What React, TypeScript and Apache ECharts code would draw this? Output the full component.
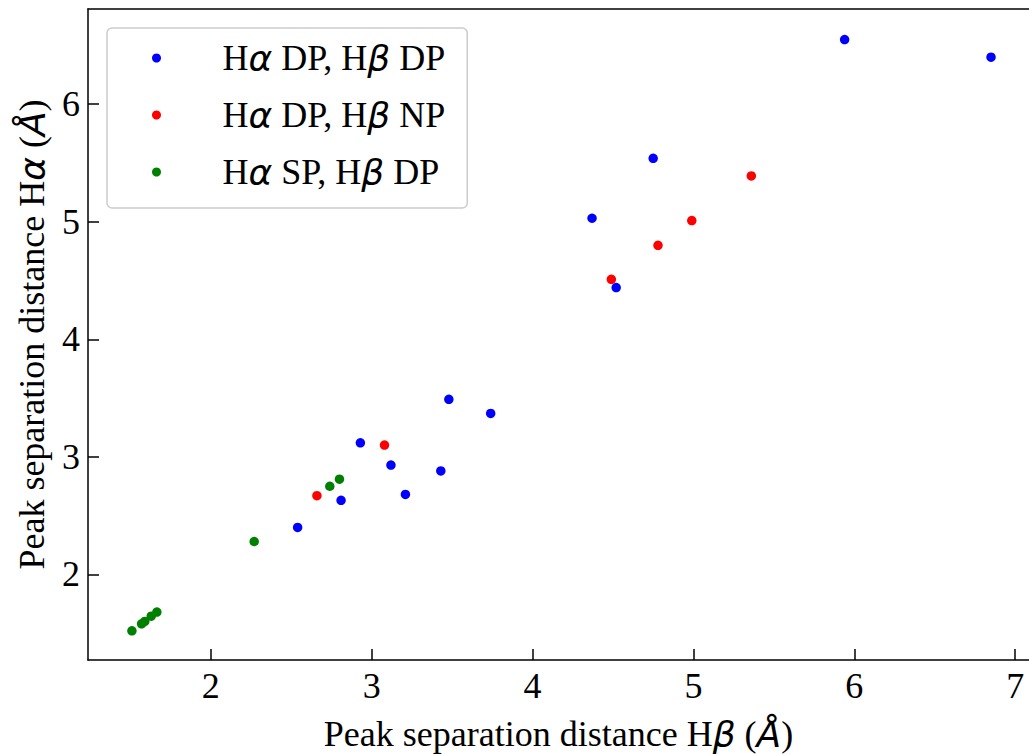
import { useEffect, useRef } from "react";
import * as echarts from "echarts";

// Hα DP, Hβ DP
const blueX = [5.94, 6.85, 4.75, 4.37, 4.52, 3.48, 3.74, 2.93, 3.12, 3.43, 2.81, 3.21, 2.54];
const blueY = [6.55, 6.40, 5.54, 5.03, 4.44, 3.49, 3.37, 3.12, 2.93, 2.88, 2.63, 2.68, 2.40];
// Hα DP, Hβ NP
const redX = [5.36, 4.99, 4.78, 4.49, 3.08, 2.66];
const redY = [5.39, 5.01, 4.80, 4.51, 3.10, 2.67];
// Hα SP, Hβ DP
const greenX = [2.80, 2.74, 2.27, 1.51, 1.57, 1.59, 1.63, 1.665];
const greenY = [2.81, 2.75, 2.28, 1.52, 1.58, 1.60, 1.645, 1.68];

const seriesNames = ["Hα DP, Hβ DP", "Hα DP, Hβ NP", "Hα SP, Hβ DP"];
const seriesColors = ["#0000ff", "#ff0000", "#008000"];

const xTickValues = [2, 3, 4, 5, 6, 7];
const yTickValues = [2, 3, 4, 5, 6];

const X_MIN = 1.237;
const X_MAX = 7.086;
const Y_MIN = 1.272;
const Y_MAX = 6.81;

const FS = 36;
const SERIF = "Liberation Serif";
const greek = { fontFamily: "DejaVu Sans", fontStyle: "italic" as const, fontSize: FS, color: "#000" };

const toRich = (s: string) => s.replace(/([αβÅ])/g, "{g|$1}");

export default function App() {
  const ref = useRef<HTMLDivElement>(null);
  useEffect(() => {
    if (!ref.current) return;
    const chart = echarts.init(ref.current, undefined, { renderer: "svg" });
    const pair = (xs: number[], ys: number[]) => xs.map((x, i) => [x, ys[i]]);
    const data = [pair(blueX, blueY), pair(redX, redY), pair(greenX, greenY)];
    chart.setOption({
      animation: false,
      backgroundColor: "#fff",
      textStyle: { fontFamily: SERIF },
      grid: { left: 88, right: 0, top: 9, bottom: 94, outerBoundsMode: "none", containLabel: false },
      legend: {
        data: seriesNames,
        orient: "vertical",
        left: 107,
        top: 28,
        padding: [10, 22, 16, 45],
        itemWidth: 20,
        itemHeight: 9,
        itemGap: 17,
        icon: "circle",
        backgroundColor: "#fff",
        borderColor: "#cccccc",
        borderWidth: 1.5,
        borderRadius: 5,
        formatter: (name: string) => "{sp|}" + toRich(name),
        textStyle: {
          fontFamily: SERIF,
          fontSize: FS,
          color: "#000",
          lineHeight: 40,
          rich: { sp: { width: 51 }, g: greek },
        },
      },
      xAxis: [
        {
          type: "value",
          min: X_MIN,
          max: X_MAX,
          name: toRich("Peak separation distance Hβ (Å)"),
          nameLocation: "middle",
          nameGap: 56,
          nameTextStyle: { fontFamily: SERIF, fontSize: FS, color: "#000", rich: { g: greek } },
          splitLine: { show: false },
          axisLine: { show: true, onZero: false, lineStyle: { color: "#000", width: 1.5 } },
          axisTick: { show: true, inside: true, length: 11, customValues: xTickValues, lineStyle: { color: "#000", width: 1.5 } },
          axisLabel: { customValues: xTickValues, fontFamily: SERIF, fontSize: FS, color: "#000", margin: 8 },
        },
        {
          type: "value",
          position: "top",
          min: X_MIN,
          max: X_MAX,
          splitLine: { show: false },
          axisLine: { show: true, onZero: false, lineStyle: { color: "#000", width: 1.5 } },
          axisTick: { show: false },
          axisLabel: { show: false },
        },
      ],
      yAxis: {
        type: "value",
        min: Y_MIN,
        max: Y_MAX,
        name: toRich("Peak separation distance Hα (Å)"),
        nameLocation: "middle",
        nameRotate: 90,
        nameGap: 38,
        nameTextStyle: { fontFamily: SERIF, fontSize: FS, color: "#000", rich: { g: greek } },
        splitLine: { show: false },
        axisLine: { show: true, onZero: false, lineStyle: { color: "#000", width: 1.5 } },
        axisTick: { show: true, inside: true, length: 11, customValues: yTickValues, lineStyle: { color: "#000", width: 1.5 } },
        axisLabel: { customValues: yTickValues, fontFamily: SERIF, fontSize: FS, color: "#000", margin: 8 },
      },
      series: data.map((d, i) => ({
        type: "scatter",
        name: seriesNames[i],
        data: d,
        symbol: "circle",
        symbolSize: 9.5,
        itemStyle: { color: seriesColors[i], opacity: 1 },
        emphasis: { disabled: true },
      })),
    });
    return () => chart.dispose();
  }, []);
  return <div ref={ref} style={{ position: "absolute", left: 0, top: 0, width: 1029, height: 754 }} />;
}
